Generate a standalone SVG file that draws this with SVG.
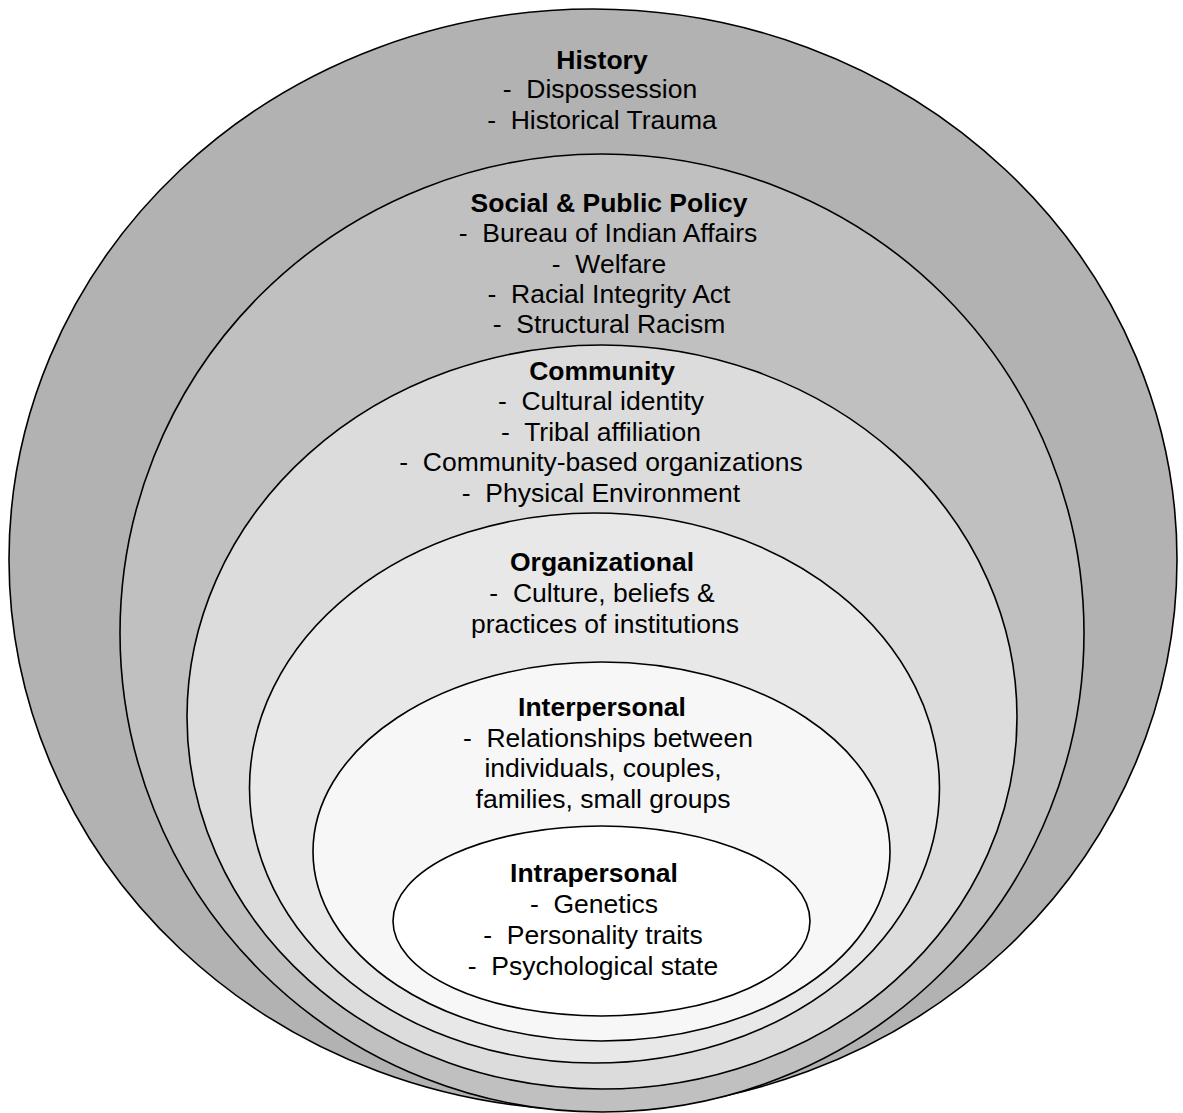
<svg xmlns="http://www.w3.org/2000/svg" width="1183" height="1113" viewBox="0 0 1183 1113">
<style>
.e{stroke:#000;stroke-width:1.6}
text{font-family:"Liberation Sans",Arial,sans-serif;font-size:26.5px;fill:#000;text-anchor:middle;white-space:pre}
.h{font-weight:bold}
</style>
<rect width="1183" height="1113" fill="#fff"/>
<g id="history">
<ellipse class="e" cx="593" cy="559.5" rx="584" ry="550.5" fill="#b2b2b2"/>
<text class="h" x="602" y="69">History</text>
<text x="600" y="98">-  Dispossession</text>
<text x="602" y="129">-  Historical Trauma</text>
</g>
<g id="social">
<ellipse class="e" cx="602" cy="633" rx="482" ry="479" fill="#c0c0c0"/>
<text class="h" x="609" y="212">Social &amp; Public Policy</text>
<text x="608" y="242">-  Bureau of Indian Affairs</text>
<text x="609" y="273">-  Welfare</text>
<text x="609" y="303">-  Racial Integrity Act</text>
<text x="609" y="333">-  Structural Racism</text>
</g>
<g id="community">
<ellipse class="e" cx="602" cy="717" rx="415" ry="372" fill="#dcdcdc"/>
<text class="h" x="602" y="380">Community</text>
<text x="601" y="410">-  Cultural identity</text>
<text x="601" y="441">-  Tribal affiliation</text>
<text x="601" y="471">-  Community-based organizations</text>
<text x="601" y="502">-  Physical Environment</text>
</g>
<g id="organizational">
<ellipse class="e" cx="594.5" cy="788" rx="345" ry="275" fill="#e8e8e8"/>
<text class="h" x="602" y="571">Organizational</text>
<text x="602" y="602">-  Culture, beliefs &amp;</text>
<text x="605" y="633">practices of institutions</text>
</g>
<g id="interpersonal">
<ellipse class="e" cx="601.5" cy="851.5" rx="288.5" ry="189.5" fill="#f7f7f7"/>
<text class="h" x="602" y="716">Interpersonal</text>
<text x="608" y="747">-  Relationships between</text>
<text x="603" y="777">individuals, couples,</text>
<text x="603" y="808">families, small groups</text>
</g>
<g id="intrapersonal">
<ellipse class="e" cx="601.5" cy="921" rx="208.5" ry="95" fill="#ffffff"/>
<text class="h" x="594" y="882">Intrapersonal</text>
<text x="594" y="913">-  Genetics</text>
<text x="593" y="944">-  Personality traits</text>
<text x="593" y="975">-  Psychological state</text>
</g>
<g id="connectors"/>
</svg>
